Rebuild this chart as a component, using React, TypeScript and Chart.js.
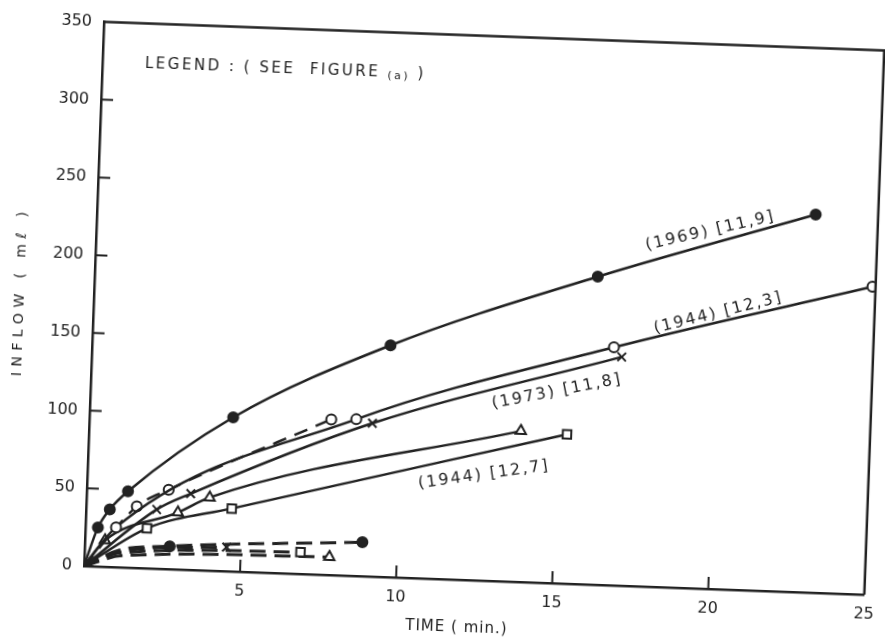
import React, { useEffect, useRef } from "react";
import { Chart, registerables } from "chart.js";

Chart.register(...registerables);

// ---------- data (time in min, inflow in ml) ----------
const xTickValues = [0, 5, 10, 15, 20, 25];
const yTickValues = [0, 50, 100, 150, 200, 250, 300, 350];

const t1969 = [0, 0.4, 0.76, 1.32, 4.6, 9.55, 16.1, 23.0];
const v1969 = [0, 25, 37, 49, 99, 149, 198, 243];

const t1944a = [0, 0.98, 8.54, 16.7, 24.9];
const v1944a = [0, 25.6, 100.7, 153, 198];

const tOpenDashed = [0, 1.62, 2.62, 7.74];
const vOpenDashed = [0, 39.5, 51, 100];

const t1973 = [0, 2.26, 3.33, 9.06, 16.96];
const v1973 = [0, 38, 49, 98.5, 147];

const tTriangle = [0, 0.64, 2.94, 3.94, 13.82];
const vTriangle = [0, 17, 36.6, 47, 97];

const t1944b = [0, 1.97, 4.66, 15.3];
const v1944b = [0, 25.7, 40.4, 96];

// low dashed curves: first two entries are unmarked points
const tDotLow = [0, 1.1, 2.72, 8.88];
const vDotLow = [0, 11, 14.7, 21.8];

const tCrossLow = [0, 1.1, 4.54];
const vCrossLow = [0, 10, 15.4];

const tSquareLow = [0, 1.2, 6.91];
const vSquareLow = [0, 9.5, 14];

const tTriangleLow = [0, 1.2, 7.84];
const vTriangleLow = [0, 7.5, 11.5];

// curve annotations
const noteTexts = ["(1969) [11,9]", "(1944) [12,3]", "(1973) [11,8]", "(1944) [12,7]"];
const noteX = [19.65, 20.0, 14.93, 12.69];
const noteY = [230, 177.4, 123.2, 68];
const noteAngle = [-15, -16, -13, -10];

const legendMain = "LEGEND : ( SEE  FIGURE ";
const legendSub = "(a)";
const legendEnd = " )";
const legendX = 1.36;
const legendY = 324;

const INK = "#222";
const FONT = "'DejaVu Sans', sans-serif";

function series(
  label: string,
  xs: number[],
  ys: number[],
  style: string,
  filled: boolean,
  radius: number,
  dash: number[],
  width: number,
  unmarked: number
) {
  return {
    label,
    data: xs.map((x, i) => ({ x, y: ys[i] })),
    borderColor: INK,
    borderWidth: width,
    borderDash: dash,
    pointStyle: style,
    pointRadius: xs.map((_, i) => (i < unmarked ? 0 : radius)),
    pointBorderWidth: 2,
    pointBorderColor: INK,
    pointBackgroundColor: filled ? INK : "#fff",
    cubicInterpolationMode: "monotone" as const,
    fill: false,
  };
}

export default function App() {
  const ref = useRef<HTMLCanvasElement>(null);

  useEffect(() => {
    const canvas = ref.current;
    if (!canvas) return;

    const framePlugin = {
      id: "frameAndNotes",
      beforeDraw(chart: any) {
        (["x", "y"] as const).forEach((id) => {
          const s: any = chart.scales[id];
          if (s && !s.__patched) {
            const orig = s.drawTitle.bind(s);
            s.drawTitle = function () {
              const c = this.ctx;
              c.save();
              (c as any).letterSpacing = id === "y" ? "5.5px" : "1px";
              if (id === "x") c.translate(-16, 0);
              orig();
              c.restore();
            };
            s.__patched = true;
          }
        });
      },
      afterDraw(chart: any) {
        const { ctx, chartArea: a, scales } = chart;
        ctx.save();
        ctx.strokeStyle = INK;
        ctx.lineWidth = 2.5;
        ctx.beginPath();
        ctx.moveTo(a.left, a.top);
        ctx.lineTo(a.right, a.top);
        ctx.lineTo(a.right, a.bottom);
        ctx.stroke();

        // inward tick marks
        ctx.lineWidth = 2;
        ctx.beginPath();
        scales.y.ticks.forEach((t: any) => {
          if (t.value <= 0 || t.value >= 350) return;
          const py = scales.y.getPixelForValue(t.value);
          ctx.moveTo(a.left, py);
          ctx.lineTo(a.left + 12, py);
        });
        scales.x.ticks.forEach((t: any) => {
          if (t.value <= 0 || t.value >= 25) return;
          const px = scales.x.getPixelForValue(t.value);
          ctx.moveTo(px, a.bottom);
          ctx.lineTo(px, a.bottom - 12);
        });
        ctx.stroke();

        // curve annotations
        ctx.fillStyle = INK;
        ctx.font = `16px ${FONT}`;
        (ctx as any).letterSpacing = "2px";
        ctx.textAlign = "center";
        ctx.textBaseline = "middle";
        noteTexts.forEach((txt, i) => {
          const px = scales.x.getPixelForValue(noteX[i]);
          const py = scales.y.getPixelForValue(noteY[i]);
          ctx.save();
          ctx.translate(px, py);
          ctx.rotate((noteAngle[i] * Math.PI) / 180);
          ctx.fillText(txt, 0, 0);
          ctx.restore();
        });

        // legend note
        (ctx as any).letterSpacing = "2.5px";
        ctx.textAlign = "left";
        let lx = scales.x.getPixelForValue(legendX);
        const ly = scales.y.getPixelForValue(legendY);
        ctx.font = `15px ${FONT}`;
        ctx.fillText(legendMain, lx, ly);
        lx += ctx.measureText(legendMain).width;
        ctx.font = `11px ${FONT}`;
        ctx.fillText(legendSub, lx, ly + 3);
        lx += ctx.measureText(legendSub).width;
        ctx.font = `15px ${FONT}`;
        ctx.fillText(legendEnd, lx, ly);
        ctx.restore();
      },
    };

    const chart = new Chart(canvas, {
      type: "line",
      data: {
        datasets: [
          series("(1969) [11,9]", t1969, v1969, "circle", true, 5, [], 2.5, 1),
          series("(1944) [12,3]", t1944a, v1944a, "circle", false, 5, [], 2.5, 1),
          series("dashed open circles", tOpenDashed, vOpenDashed, "circle", false, 5, [14, 9], 2.5, 1),
          series("(1973) [11,8]", t1973, v1973, "crossRot", false, 6, [], 2.5, 1),
          series("triangles", tTriangle, vTriangle, "triangle", false, 6, [], 2.5, 1),
          series("(1944) [12,7]", t1944b, v1944b, "rect", false, 6, [], 2.5, 1),
          series("dashed dots", tDotLow, vDotLow, "circle", true, 5, [16, 8], 3, 2),
          series("dashed crosses", tCrossLow, vCrossLow, "crossRot", false, 6, [16, 8], 3, 2),
          series("dashed squares", tSquareLow, vSquareLow, "rect", false, 6, [16, 8], 3, 2),
          series("dashed triangles", tTriangleLow, vTriangleLow, "triangle", false, 6, [16, 8], 3, 2),
        ],
      },
      options: {
        responsive: false,
        animation: false,
        devicePixelRatio: 1,
        layout: { padding: { left: 0, right: 17, top: 17, bottom: 0 } },
        plugins: {
          legend: { display: false },
          tooltip: { enabled: false },
        },
        scales: {
          x: {
            type: "linear",
            min: 0,
            max: 25,
            afterFit: (s: any) => {
              s.height = 77;
            },
            afterBuildTicks: (s: any) => {
              s.ticks = xTickValues.map((v) => ({ value: v }));
            },
            grid: { display: true, drawOnChartArea: false, drawTicks: false },
            border: { display: true, color: INK, width: 2.5 },
            ticks: {
              color: INK,
              font: { family: FONT, size: 16 },
              padding: 10,
              maxRotation: 0,
              callback: (v: any) => (v === 0 ? "" : String(v)),
            },
            title: {
              display: true,
              text: "TIME ( min.)",
              color: INK,
              font: { family: FONT, size: 15 },
              padding: { top: 0, bottom: 20 },
            },
          },
          y: {
            type: "linear",
            min: 0,
            max: 350,
            afterFit: (s: any) => {
              s.width = 84;
            },
            afterBuildTicks: (s: any) => {
              s.ticks = yTickValues.map((v) => ({ value: v }));
            },
            grid: { display: true, drawOnChartArea: false, drawTicks: false },
            border: { display: true, color: INK, width: 2.5 },
            ticks: {
              color: INK,
              font: { family: FONT, size: 16 },
              padding: 12,
              callback: (v: any) => String(v),
            },
            title: {
              display: true,
              text: "INFLOW ( mℓ )",
              color: INK,
              font: { family: FONT, size: 14 },
              padding: { top: 2, bottom: 0 },
            },
          },
        },
      },
      plugins: [framePlugin],
    } as any);

    return () => chart.destroy();
  }, []);

  return (
    <div
      style={{
        position: "fixed",
        left: 0,
        top: 0,
        width: 885,
        height: 643,
        overflow: "hidden",
        background: "#fff",
      }}
    >
      <canvas
        ref={ref}
        width={885}
        height={643}
        style={{
          position: "absolute",
          left: 0,
          top: 0,
          width: 885,
          height: 643,
          transform: "rotate(2.1deg)",
          transformOrigin: "84px 566px",
        }}
      />
    </div>
  );
}
